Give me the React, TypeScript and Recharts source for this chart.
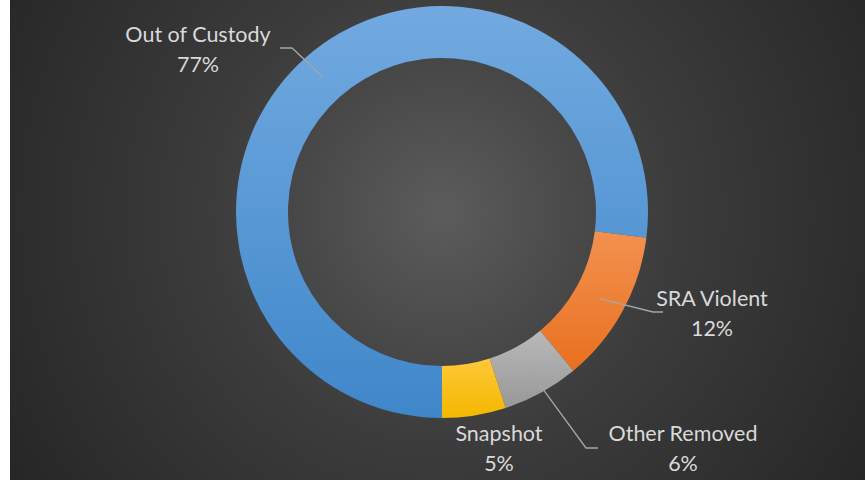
import { PieChart, Pie, Cell } from 'recharts';

const categories = ['Out of Custody', 'SRA Violent', 'Other Removed', 'Snapshot'];
const shares = [77, 12, 6, 5];
const percentLabels = ['77%', '12%', '6%', '5%'];

const data = categories.map((name, i) => ({ name, value: shares[i] }));

const RAD = Math.PI / 180;
const gradients = [
  ['#72aae0', '#3f87ca'],
  ['#f39150', '#e9701f'],
  ['#b9b9b9', '#989898'],
  ['#ffc83a', '#f4b700'],
];

// label placement relative to the pie centre
const labelLayout = [
  { tx: -244, ty: -170, line: [[-150, -164], [-162, -164]] },
  { tx: 270, ty: 94, line: [[211, 100], [221, 100]] },
  { tx: 241, ty: 229, line: [[144, 236], [156, 236]] },
  { tx: 57, ty: 229, line: null },
];

const renderLabel = (props: any) => {
  const { cx, cy, midAngle, innerRadius, outerRadius, index } = props;
  const lay = labelLayout[index];
  const r = (innerRadius + outerRadius) / 2;
  const sx = cx + r * Math.cos(-midAngle * RAD);
  const sy = cy + r * Math.sin(-midAngle * RAD);
  return (
    <g key={'lbl' + index}>
      {lay.line && (
        <polyline
          points={`${sx},${sy} ${cx + lay.line[0][0]},${cy + lay.line[0][1]} ${cx + lay.line[1][0]},${cy + lay.line[1][1]}`}
          fill="none"
          stroke="#a6a6a6"
          strokeWidth={1.3}
        />
      )}
      <text x={cx + lay.tx} y={cy + lay.ty} textAnchor="middle" fill="#d9d9d9" fontSize={21.5} fontFamily="Lato, sans-serif">
        {categories[index]}
      </text>
      <text x={cx + lay.tx} y={cy + lay.ty + 30} textAnchor="middle" fill="#d9d9d9" fontSize={21.5} fontFamily="Lato, sans-serif">
        {percentLabels[index]}
      </text>
    </g>
  );
};

export default function App() {
  return (
    <div
      style={{
        position: 'absolute',
        top: 0,
        left: 10,
        width: 855,
        height: 480,
        background: 'radial-gradient(circle at 432px 212px, #5c5c5c 0%, #3c3c3c 45%, #262626 100%)',
      }}
    >
      <PieChart width={855} height={480} margin={{ top: 0, right: 0, bottom: 0, left: 0 }}>
        <defs>
          {gradients.map((g, i) => (
            <linearGradient key={i} id={'slice' + i} x1="0" y1="0" x2="0" y2="1">
              <stop offset="0%" stopColor={g[0]} />
              <stop offset="100%" stopColor={g[1]} />
            </linearGradient>
          ))}
        </defs>
        <Pie
          data={data}
          dataKey="value"
          cx={432}
          cy={212}
          innerRadius={154}
          outerRadius={206}
          startAngle={-90}
          endAngle={-450}
          stroke="none"
          label={renderLabel}
          labelLine={false}
          isAnimationActive={false}
        >
          {data.map((d, i) => (
            <Cell key={d.name} fill={`url(#slice${i})`} />
          ))}
        </Pie>
      </PieChart>
    </div>
  );
}
